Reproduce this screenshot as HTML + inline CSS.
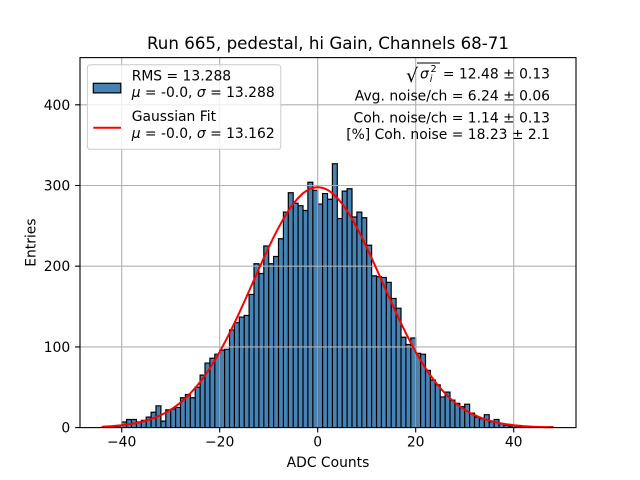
<!DOCTYPE html>
<html><head><meta charset="utf-8"><style>
html,body{margin:0;padding:0;background:#fff;}
svg{display:block;font-family:"DejaVu Sans","Liberation Sans",sans-serif;}
.nv path,.nv polyline{vector-effect:non-scaling-stroke;}
</style></head><body>
<svg width="640" height="480" viewBox="0 0 640 480" xmlns="http://www.w3.org/2000/svg">
<rect x="0" y="0" width="640" height="480" fill="#fff"/>
<g class="nv" transform="translate(317.7 427.6) scale(4.9 -0.807)">
<path fill="#4682b4" stroke="#000" stroke-width="1.2" d="M-44 0V1h1V0M-42 0V1h1V0M-41 0V2h1V0M-40 0V7h1V0M-39 0V10h1V0M-38 0V10h1V0M-37 0V7h1V0M-36 0V9h1V0M-35 0V13h1V0M-34 0V19h1V0M-33 0V27h1V0M-32 0V8h1V0M-31 0V22h1V0M-30 0V23h1V0M-29 0V25h1V0M-28 0V37h1V0M-27 0V41h1V0M-26 0V37h1V0M-25 0V50h1V0M-24 0V65h1V0M-23 0V80h1V0M-22 0V86h1V0M-21 0V91h1V0M-20 0V96h1V0M-19 0V97h1V0M-18 0V121h1V0M-17 0V130h1V0M-16 0V137h1V0M-15 0V139h1V0M-14 0V165h1V0M-13 0V203h1V0M-12 0V191h1V0M-11 0V225h1V0M-10 0V203h1V0M-9 0V212h1V0M-8 0V234h1V0M-7 0V267h1V0M-6 0V291h1V0M-5 0V278h1V0M-4 0V275h1V0M-3 0V269h1V0M-2 0V304h1V0M-1 0V294h1V0M0 0V277h1V0M1 0V290h1V0M2 0V283h1V0M3 0V327h1V0M4 0V259h1V0M5 0V293h1V0M6 0V296h1V0M7 0V261h1V0M8 0V267h1V0M9 0V260h1V0M10 0V226h1V0M11 0V188h1V0M12 0V187h1V0M13 0V186h1V0M14 0V180h1V0M15 0V160h1V0M16 0V148h1V0M17 0V112h1V0M18 0V103h1V0M19 0V111h1V0M20 0V92h1V0M21 0V91h1V0M22 0V71h1V0M23 0V59h1V0M24 0V53h1V0M25 0V38h1V0M26 0V44h1V0M27 0V34h1V0M28 0V30h1V0M29 0V26h1V0M30 0V29h1V0M31 0V18h1V0M32 0V13h1V0M33 0V11h1V0M34 0V16h1V0M35 0V7h1V0M36 0V10h1V0M37 0V5h1V0M38 0V3h1V0M39 0V2h1V0M40 0V2h1V0M41 0V1h1V0M42 0V1h1V0M43 0V1h1V0M45 0V1h1V0M47 0V1h1V0"/>
</g>
<g stroke="#b0b0b0" stroke-width="1.1">
<line x1="121.7" y1="57.6" x2="121.7" y2="427.6"/>
<line x1="219.7" y1="57.6" x2="219.7" y2="427.6"/>
<line x1="317.7" y1="57.6" x2="317.7" y2="427.6"/>
<line x1="415.7" y1="57.6" x2="415.7" y2="427.6"/>
<line x1="513.7" y1="57.6" x2="513.7" y2="427.6"/>
<line x1="80" y1="346.9" x2="576" y2="346.9"/>
<line x1="80" y1="266.2" x2="576" y2="266.2"/>
<line x1="80" y1="185.5" x2="576" y2="185.5"/>
<line x1="80" y1="104.8" x2="576" y2="104.8"/>
</g>
<g class="nv" transform="translate(317.7 427.6) scale(4.9 -0.807)">
<polyline fill="none" stroke="#ff0000" stroke-width="2" stroke-linejoin="round" points="-44,1.12 -42,1.83 -40,2.94 -38,4.62 -37,5.73 -36,7.08 -35,8.69 -34,10.6 -33,12.9 -32,15.5 -31,18.6 -30,22.2 -29,26.3 -28,31.0 -27,36.3 -26,42.4 -25,49.1 -24,56.5 -23,64.7 -22,73.7 -21,83.5 -20,93.9 -19,105.1 -18,117.0 -17,129.4 -16,142.4 -15,155.7 -14,169.3 -13,183.0 -12,196.7 -11,210.2 -10,223.3 -9,235.9 -8,247.7 -7,258.7 -6,268.6 -5,277.3 -4,284.5 -3,290.4 -2,294.6 -1,297.1 0,298 1,297.1 2,294.6 3,290.4 4,284.5 5,277.3 6,268.6 7,258.7 8,247.7 9,235.9 10,223.3 11,210.2 12,196.7 13,183.0 14,169.3 15,155.7 16,142.4 17,129.4 18,117.0 19,105.1 20,93.9 21,83.5 22,73.7 23,64.7 24,56.5 25,49.1 26,42.4 27,36.3 28,31.0 29,26.3 30,22.2 31,18.6 32,15.5 33,12.9 34,10.6 35,8.69 36,7.08 37,5.73 38,4.62 40,2.94 42,1.83 44,1.12 46,0.66 48,0.39"/>
</g>
<rect x="80" y="57.6" width="496" height="370" fill="none" stroke="#000" stroke-width="1.1"/>
<path stroke="#000" stroke-width="1.1" fill="none" d="M121.7 427.6v4.9M219.7 427.6v4.9M317.7 427.6v4.9M415.7 427.6v4.9M513.7 427.6v4.9M75.1 427.6h4.9M75.1 346.9h4.9M75.1 266.2h4.9M75.1 185.5h4.9M75.1 104.8h4.9"/>
<g font-size="13.89" fill="#000">
<text x="121.7" y="446.6" text-anchor="middle">−40</text>
<text x="219.7" y="446.6" text-anchor="middle">−20</text>
<text x="317.7" y="446.6" text-anchor="middle">0</text>
<text x="415.7" y="446.6" text-anchor="middle">20</text>
<text x="513.7" y="446.6" text-anchor="middle">40</text>
<text x="70.2" y="432.6" text-anchor="end">0</text>
<text x="70.2" y="351.9" text-anchor="end">100</text>
<text x="70.2" y="271.2" text-anchor="end">200</text>
<text x="70.2" y="190.5" text-anchor="end">300</text>
<text x="70.2" y="109.8" text-anchor="end">400</text>
<text x="328" y="467" text-anchor="middle">ADC Counts</text>
<text transform="translate(35.6 242.6) rotate(-90)" x="0" y="0" text-anchor="middle">Entries</text>
</g>
<text x="328" y="49" font-size="16.67" text-anchor="middle">Run 665, pedestal, hi Gain, Channels 68-71</text>
<rect x="87.4" y="64.8" width="193.4" height="84.5" rx="2.8" ry="2.8" fill="#fff" fill-opacity="0.8" stroke="#cccccc" stroke-width="1"/>
<rect x="93.3" y="83.3" width="27.5" height="9.6" fill="#4682b4" stroke="#000" stroke-width="1.2"/>
<line x1="93.3" y1="127.7" x2="121" y2="127.7" stroke="#ff0000" stroke-width="2"/>
<g font-size="13.89" fill="#000">
<text x="131.7" y="80.6">RMS = 13.288</text>
<text x="131.7" y="97.1"><tspan font-style="italic">μ</tspan> = -0.0, <tspan font-style="italic">σ</tspan> = 13.288</text>
<text x="131.7" y="121">Gaussian Fit</text>
<text x="131.7" y="138.2"><tspan font-style="italic">μ</tspan> = -0.0, <tspan font-style="italic">σ</tspan> = 13.162</text>
<text x="406" y="82" font-size="19">√</text>
<text x="420" y="78.3" font-style="italic">σ</text>
<text x="429.8" y="81.8" font-size="9.7" font-style="italic">i</text>
<text x="430.5" y="72" font-size="9.7">2</text>
<text x="550" y="78.3" text-anchor="end">= 12.48 ± 0.13</text>
<text x="550" y="100.7" text-anchor="end">Avg. noise/ch = 6.24 ± 0.06</text>
<text x="550" y="122.3" text-anchor="end">Coh. noise/ch = 1.14 ± 0.13</text>
<text x="550" y="139" text-anchor="end">[%] Coh. noise = 18.23 ± 2.1</text>
</g>
<line x1="417" y1="63" x2="440" y2="63" stroke="#000" stroke-width="1"/>
</svg>
</body></html>
